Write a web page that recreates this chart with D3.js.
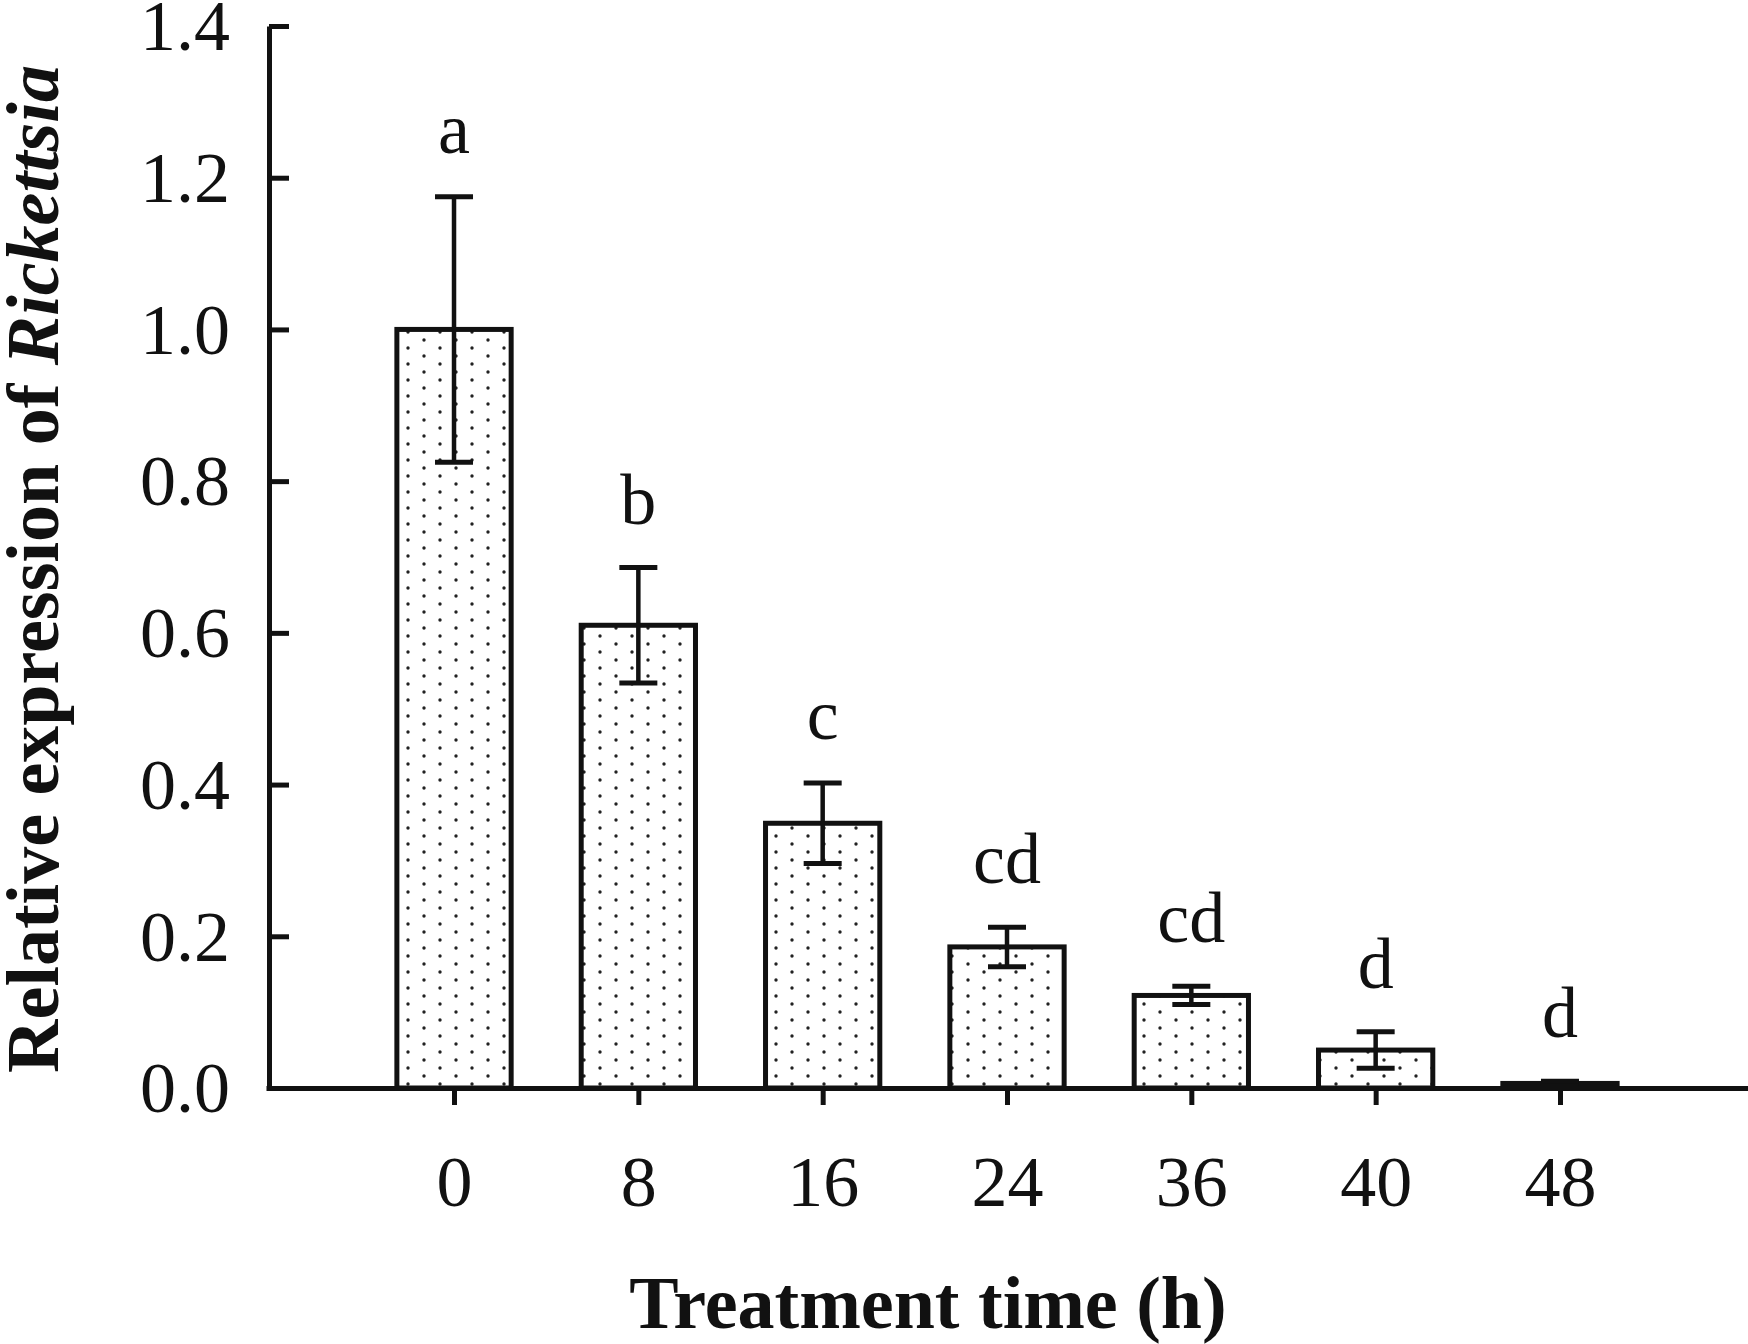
<!DOCTYPE html>
<html>
<head>
<meta charset="utf-8">
<script src="https://cdn.jsdelivr.net/npm/d3@7"></script>
<style>
  body { margin: 0; background: #fff; }
  text { font-family: "Liberation Serif", "Times New Roman", serif; fill: #111; }
</style>
</head>
<body>
<div id="chart"></div>
<script>
const times = ['0', '8', '16', '24', '36', '40', '48'];
const means = [1.0, 0.61, 0.349, 0.186, 0.122, 0.05, 0.006];
const errors = [0.175, 0.076, 0.053, 0.026, 0.012, 0.024, 0.003];
const letters = ['a', 'b', 'c', 'cd', 'cd', 'd', 'd'];
const yTicks = [0, 0.2, 0.4, 0.6, 0.8, 1.0, 1.2, 1.4];

const W = 1748, H = 1344;
const ink = '#111';
var svg, x, y;

function setup(){
  svg = d3.select('#chart')
          .append('svg')
          .attr('width', W)
          .attr('height', H);

  // dotted fill used by the bars
  let pat = svg.append('defs')
               .append('pattern')
               .attr('id', 'dots')
               .attr('patternUnits', 'userSpaceOnUse')
               .attr('width', 32)
               .attr('height', 16);
  pat.append('rect').attr('width', 32).attr('height', 16).attr('fill', '#fff');
  pat.append('circle').attr('cx', 8).attr('cy', 4).attr('r', 1.7).attr('fill', '#222');
  pat.append('circle').attr('cx', 24).attr('cy', 12).attr('r', 1.7).attr('fill', '#222');
}

function setScales(){
  x = d3.scalePoint()
        .domain(times)
        .range([266, 1748])
        .padding(1.02);
  y = d3.scaleLinear()
        .domain([0, 1.4])
        .range([1088, 26]);
}

function drawBars(){
  const bw = x.step() * 0.62;
  const rows = times.map((t, i) => ({t: t, m: means[i], e: errors[i], l: letters[i]}));

  svg.append('g')
     .selectAll('rect')
     .data(rows)
     .join('rect')
     .attr('x', d => x(d.t) - bw / 2)
     .attr('width', bw)
     .attr('y', d => y(d.m))
     .attr('height', d => y(0) - y(d.m))
     .attr('fill', 'url(#dots)')
     .attr('stroke', ink)
     .attr('stroke-width', 5);

  let err = svg.append('g')
               .attr('stroke', ink)
               .attr('stroke-width', 4.5);
  err.selectAll('.stem')
     .data(rows)
     .join('line')
     .attr('x1', d => x(d.t)).attr('x2', d => x(d.t))
     .attr('y1', d => y(d.m - d.e)).attr('y2', d => y(d.m + d.e));
  err.selectAll('.capTop')
     .data(rows)
     .join('line')
     .attr('x1', d => x(d.t) - 19).attr('x2', d => x(d.t) + 19)
     .attr('y1', d => y(d.m + d.e)).attr('y2', d => y(d.m + d.e))
     .attr('stroke-width', 5);
  err.selectAll('.capBot')
     .data(rows)
     .join('line')
     .attr('x1', d => x(d.t) - 19).attr('x2', d => x(d.t) + 19)
     .attr('y1', d => y(d.m - d.e)).attr('y2', d => y(d.m - d.e))
     .attr('stroke-width', 5);

  svg.append('g')
     .selectAll('text')
     .data(rows)
     .join('text')
     .attr('x', d => x(d.t))
     .attr('y', d => y(d.m + d.e) - 44)
     .attr('text-anchor', 'middle')
     .attr('font-size', 72)
     .text(d => d.l);
}

function drawAxes(){
  let gy = svg.append('g')
              .attr('transform', `translate(${269},0)`)
              .call(d3.axisLeft(y)
                      .tickValues(yTicks)
                      .tickFormat(d3.format('.1f'))
                      .tickSizeInner(-20)
                      .tickSizeOuter(0)
                      .tickPadding(39));
  gy.selectAll('path, line').attr('stroke', ink).attr('stroke-width', 5);
  gy.selectAll('text')
    .attr('font-size', 72)
    .attr('font-family', '"Liberation Serif", "Times New Roman", serif')
    .attr('fill', ink)
    .attr('dy', '0.33em');

  let gx = svg.append('g')
              .attr('transform', `translate(0,${y(0)})`)
              .call(d3.axisBottom(x)
                      .tickSizeInner(17)
                      .tickSizeOuter(0)
                      .tickPadding(50));
  gx.selectAll('path, line').attr('stroke', ink).attr('stroke-width', 5);
  gx.selectAll('text')
    .attr('font-size', 72)
    .attr('font-family', '"Liberation Serif", "Times New Roman", serif')
    .attr('fill', ink);

  svg.append('text')
     .attr('x', 928)
     .attr('y', 1328)
     .attr('text-anchor', 'middle')
     .attr('font-size', 74)
     .attr('font-weight', 'bold')
     .text('Treatment time (h)');

  let yl = svg.append('text')
              .attr('transform', 'translate(58,569) rotate(-90)')
              .attr('text-anchor', 'middle')
              .attr('font-size', 74)
              .attr('font-weight', 'bold');
  yl.append('tspan').text('Relative expression of ');
  yl.append('tspan').attr('font-style', 'italic').text('Rickettsia');
}

setup()
setScales()
drawBars()
drawAxes()
</script>
</body>
</html>
